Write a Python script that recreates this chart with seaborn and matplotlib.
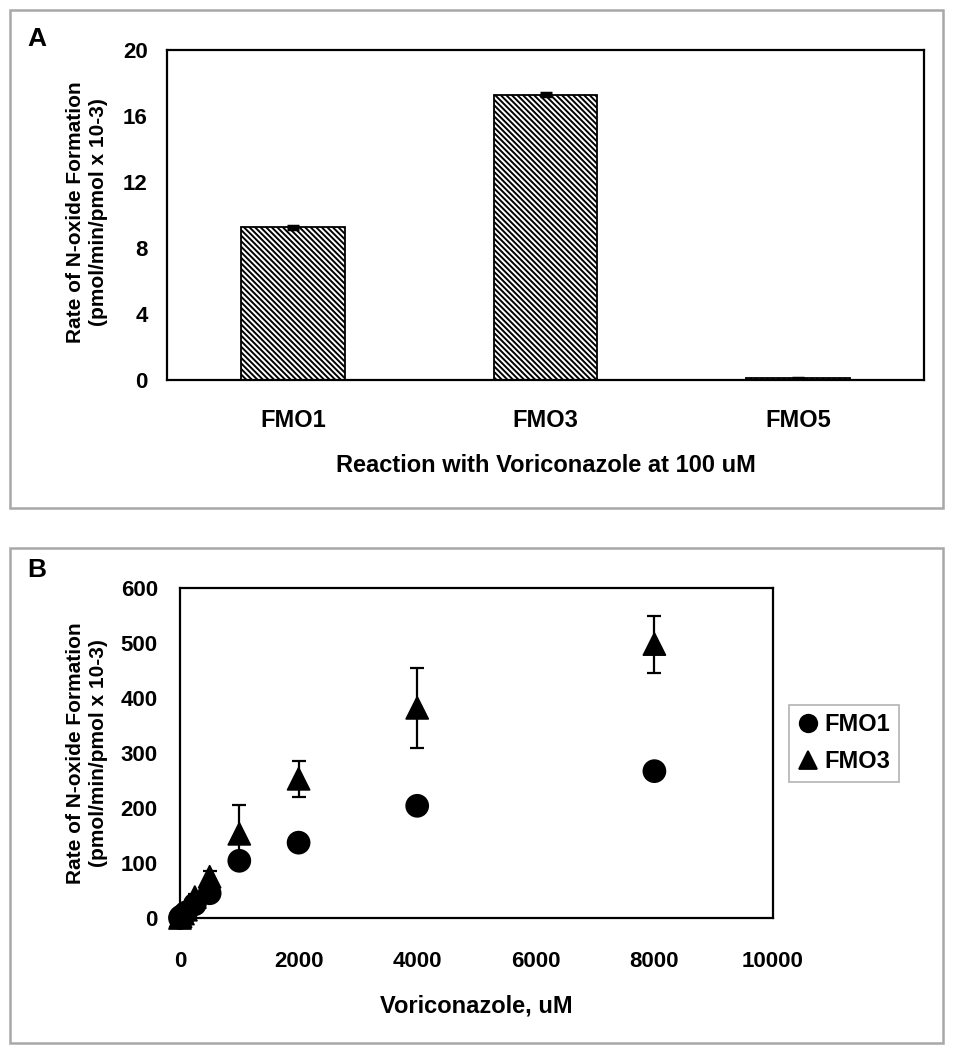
import numpy as np
import pandas as pd
import matplotlib
matplotlib.use("Agg")
import matplotlib.pyplot as plt
from matplotlib.patches import Rectangle
import seaborn as sns

# panel A data
enzymes = ["FMO1", "FMO3", "FMO5"]
rate_100uM = [9.25, 17.3, 0.1]
rate_100uM_err = [0.1, 0.1, 0.02]

# panel B data
conc_uM = [0, 10, 50, 100, 250, 500, 1000, 2000, 4000, 8000]
fmo1_rate = [0, 2, 5, 10, 25, 45, 104, 137, 204, 267]
fmo1_err = [0, 0, 1, 1, 2, 4, 6, 5, 6, 6]
fmo3_rate = [0, 3, 8, 15, 38, 75, 153, 253, 382, 498]
fmo3_err = [0, 1, 2, 3, 5, 10, 52, 33, 73, 52]

sns.set_style("white")
plt.rcParams['font.family'] = ['Liberation Sans', 'DejaVu Sans']
plt.rcParams['font.weight'] = 'bold'
plt.rcParams['text.color'] = 'black'
plt.rcParams['axes.labelcolor'] = 'black'
plt.rcParams['xtick.color'] = 'black'
plt.rcParams['ytick.color'] = 'black'
plt.rcParams['hatch.linewidth'] = 1.4

W, H = 956, 1050
fig = plt.figure(figsize=(W / 100, H / 100), dpi=100)


def px_box(x0, y0, x1, y1):
    return [x0 / W, 1 - y1 / H, (x1 - x0) / W, (y1 - y0) / H]


# grey frames around the two panels
for (x0, y0, x1, y1) in [(10, 10, 943, 508), (10, 548, 943, 1043)]:
    fig.add_artist(Rectangle((x0 / W, 1 - y1 / H), (x1 - x0) / W, (y1 - y0) / H,
                             transform=fig.transFigure, fill=False, edgecolor='#a8a8a8', lw=1.8))

ylab = "Rate of N-oxide Formation\n(pmol/min/pmol x 10-3)"

# ---- panel A
axA = fig.add_axes(px_box(167, 50, 924, 380))
dfA = pd.DataFrame({"enzyme": enzymes, "rate": rate_100uM})
sns.barplot(data=dfA, x="enzyme", y="rate", ax=axA, color="white", width=0.41,
            edgecolor="black", linewidth=1.3, errorbar=None)
for bar in axA.patches:
    bar.set_hatch("\\\\\\\\\\\\")
axA.errorbar(range(len(enzymes)), rate_100uM, yerr=rate_100uM_err, fmt='none',
             ecolor='black', elinewidth=1.5, capsize=4.5, capthick=2.5)
axA.set_ylim(0, 20)
axA.set_xlim(-0.5, 2.5)
axA.set_yticks([0, 4, 8, 12, 16, 20])
axA.set_xticks([0, 1, 2])
axA.set_xticks([-0.5, 0.5, 1.5, 2.5], minor=True)
axA.tick_params(axis='x', which='major', length=0, labelsize=17, pad=21)
axA.tick_params(axis='x', which='minor', length=7, width=1.2, color='#808080', direction='out')
axA.tick_params(axis='y', length=6, width=1.2, color='#808080', direction='out', labelsize=16, pad=8)
axA.set_xlabel("Reaction with Voriconazole at 100 uM", fontsize=17, fontweight='bold', labelpad=16)
axA.set_ylabel(ylab, fontsize=15, fontweight='bold', linespacing=1.25)
axA.yaxis.set_label_coords(108 / W, 1 - 212 / H, transform=fig.transFigure)
for s in axA.spines.values():
    s.set_color('black')
    s.set_linewidth(1.6)
fig.text(27 / W, 1 - 39 / H, "A", fontsize=19, fontweight='bold', va='center')

# ---- panel B
axB = fig.add_axes(px_box(180, 588, 773, 918))
dfB = pd.DataFrame({
    "conc": conc_uM * 2,
    "rate": fmo1_rate + fmo3_rate,
    "enzyme": ["FMO1"] * len(conc_uM) + ["FMO3"] * len(conc_uM),
})
axB.errorbar(conc_uM, fmo3_rate, yerr=fmo3_err, fmt='none', ecolor='black',
             elinewidth=1.6, capsize=5, capthick=1.6, zorder=1)
sns.scatterplot(data=dfB, x="conc", y="rate", hue="enzyme", style="enzyme",
                markers={"FMO1": "o", "FMO3": "^"}, palette={"FMO1": "black", "FMO3": "black"},
                s=250, edgecolor='black', ax=axB, zorder=3, clip_on=False)
axB.set_xlim(0, 10000)
axB.set_ylim(0, 600)
axB.set_xticks(np.arange(0, 10001, 2000))
axB.set_yticks(np.arange(0, 601, 100))
axB.tick_params(axis='x', length=7, width=1.2, color='#808080', direction='out', labelsize=16, pad=17)
axB.tick_params(axis='y', length=7, width=1.2, color='#808080', direction='out', labelsize=16, pad=9)
axB.set_xlabel("Voriconazole, uM", fontsize=17, fontweight='bold', labelpad=16)
axB.set_ylabel(ylab, fontsize=15, fontweight='bold', linespacing=1.25)
axB.yaxis.set_label_coords(108 / W, 1 - 753 / H, transform=fig.transFigure)
for s in axB.spines.values():
    s.set_color('black')
    s.set_linewidth(1.6)
leg = axB.legend(title=None, loc='upper left', bbox_to_anchor=(789 / W, 1 - 705 / H),
                 bbox_transform=fig.transFigure, borderaxespad=0,
                 frameon=True, fancybox=False, edgecolor='#a0a0a0', fontsize=17,
                 handlelength=0.9, handletextpad=0.25, borderpad=0.35, labelspacing=0.6,
                 markerscale=0.8)
leg.get_frame().set_linewidth(1.2)
fig.text(27 / W, 1 - 570 / H, "B", fontsize=19, fontweight='bold', va='center')

fig.savefig("out.png", dpi=100, facecolor='white')
